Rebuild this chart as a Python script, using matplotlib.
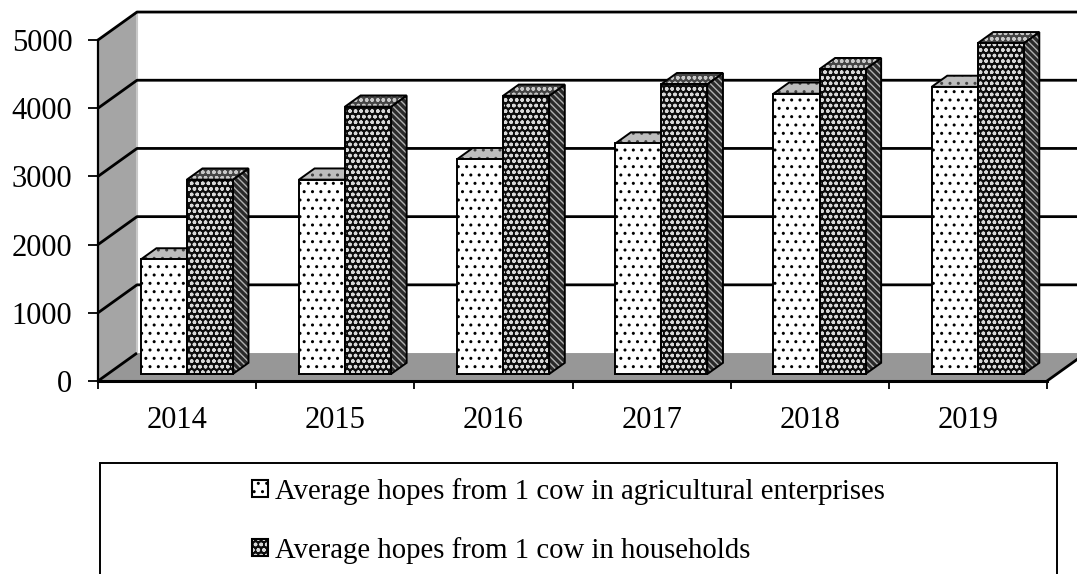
import matplotlib.pyplot as plt
from matplotlib.patches import Polygon, Rectangle, Patch
from matplotlib.legend_handler import HandlerTuple

years = ['2014', '2015', '2016', '2017', '2018', '2019']
agri = [1680, 2850, 3150, 3380, 4110, 4210]
house = [2850, 3920, 4080, 4250, 4470, 4850]
series_names = ['Average hopes from 1 cow in agricultural enterprises',
                'Average hopes from 1 cow in households']
yticks = [0, 1000, 2000, 3000, 4000, 5000]

plt.rcParams['font.family'] = ['Liberation Serif', 'DejaVu Serif']
plt.rcParams['hatch.linewidth'] = 1.0

W, H = 1077, 574
fig = plt.figure(figsize=(W / 100, H / 100), dpi=100)
ax = fig.add_axes([98 / W, 1 - 381 / H, 949 / W, 341 / H])
ax.set_xlim(0, len(years))
ax.set_ylim(0, 5000)
ax.patch.set_visible(False)

# offset of the back wall (depth = 1) in data units
DX, DY = 0.2466, 410


def at(x, y, d):
    return (x + DX * d, y + DY * d)


def face(pts, fc, hatch=None, hc='k', z=3):
    ax.add_patch(Polygon(pts, closed=True, facecolor=fc, edgecolor=hc, hatch=hatch,
                         lw=0, zorder=z, clip_on=False))
    ax.add_patch(Polygon(pts, closed=True, fill=False, edgecolor='k', lw=1.4,
                         zorder=z, clip_on=False, joinstyle='miter'))


n = len(years)
# side wall and floor
ax.add_patch(Polygon([at(0, 0, 0), at(0, 0, 1), at(0, 5000, 1), at(0, 5000, 0)],
                     facecolor='#a5a5a5', edgecolor='none', zorder=0, clip_on=False))
ax.add_patch(Polygon([at(0, 0, 0), at(n, 0, 0), at(n, 0, 1), at(0, 0, 1)],
                     facecolor='#979797', edgecolor='none', zorder=0, clip_on=False))
ax.plot([DX, DX], [DY, 5000 + DY], color='#c8c8c8', lw=1.5, zorder=1, clip_on=False)

# gridlines across the side wall and back wall
for v in yticks:
    xs = [0, DX, n + DX]
    ys = [v, v + DY, v + DY]
    if v == 0:
        xs, ys = xs[:2], ys[:2]
    ax.plot(xs, ys, color='k', lw=2, zorder=1, clip_on=False, solid_capstyle='butt')

# right edge of the floor
ax.plot([n, n + DX], [0, DY], color='k', lw=2, zorder=1, clip_on=False)

bw = 0.291
d0, d1 = 0.25, 0.65
dark_hatch = 'ooo'
styles = [
    dict(front=('white', '..', 'k'), top=('#bdbdbd', '..', '#444'), side=('#cfcfcf', '..', '#444')),
    dict(front=('#0d0d0d', dark_hatch, '#d8d8d8'), top=('#444444', dark_hatch, '#c8c8c8'),
         side=('#2a2a2a', '\\\\\\\\\\', '#b0b0b0')),
]

for i in range(n):
    for k, vals in enumerate([agri, house]):
        x0 = i + 0.5 - bw + k * bw
        v = vals[i]
        st = styles[k]
        face([at(x0 + bw, 0, d0), at(x0 + bw, 0, d1), at(x0 + bw, v, d1), at(x0 + bw, v, d0)],
             *st['side'], z=3 + i * 2 + k)
        face([at(x0, v, d0), at(x0 + bw, v, d0), at(x0 + bw, v, d1), at(x0, v, d1)],
             *st['top'], z=3 + i * 2 + k)
        face([at(x0, 0, d0), at(x0 + bw, 0, d0), at(x0 + bw, v, d0), at(x0, v, d0)],
             *st['front'], z=3 + i * 2 + k)

# axes
for s in ['top', 'right']:
    ax.spines[s].set_visible(False)
ax.spines['left'].set_linewidth(1.6)
ax.spines['bottom'].set_linewidth(2.2)
ax.spines['left'].set_zorder(30)
ax.spines['bottom'].set_zorder(30)
ax.set_yticks(yticks)
ax.tick_params(axis='y', length=7, width=1.3, pad=11.5, labelsize=22)
ax.set_xticks(range(n + 1))
ax.set_xticklabels([])
ax.set_xticks([i + 0.5 for i in range(n)], minor=True)
ax.set_xticklabels(years, minor=True)
ax.tick_params(axis='x', which='major', length=6, width=1.3)
ax.tick_params(axis='x', which='minor', length=0, pad=18, labelsize=22)

# legend box
fig.patches.append(Rectangle((100 / W, -0.05), 957 / W, 1 - 463 / H + 0.05,
                             transform=fig.transFigure, facecolor='white',
                             edgecolor='k', lw=1.4))
h1 = (Patch(facecolor='white', edgecolor='k', hatch='..', lw=0),
      Patch(fill=False, edgecolor='k', lw=1.5))
h2 = (Patch(facecolor='#0d0d0d', edgecolor='#d8d8d8', hatch=dark_hatch, lw=0),
      Patch(fill=False, edgecolor='k', lw=1.5))
fig.legend([h1, h2], series_names, loc='upper left',
           bbox_to_anchor=(252 / W, 1 - 478 / H), frameon=False, borderpad=0,
           borderaxespad=0, handlelength=0.55, handleheight=0.55, handletextpad=0.25,
           labelspacing=1.1, fontsize=20.7,
           handler_map={tuple: HandlerTuple(ndivide=1, pad=0)})

fig.savefig('out.png', dpi=100)
